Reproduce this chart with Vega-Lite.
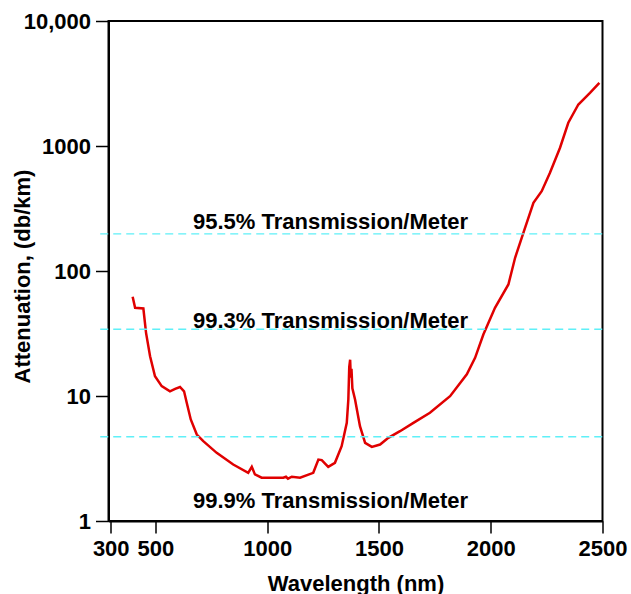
{
  "$schema": "https://vega.github.io/schema/vega-lite/v6.json",
  "width": 494,
  "height": 500,
  "autosize": {"type": "none"},
  "padding": {"left": 108.5, "top": 21, "right": 28.5, "bottom": 73},
  "background": "white",
  "config": {
    "view": {"stroke": "black", "strokeWidth": 2},
    "font": "Liberation Sans"
  },
  "datasets": {
    "curve": [
      {"nm": 398, "att": 62.2},
      {"nm": 409, "att": 50.8},
      {"nm": 446, "att": 50.1},
      {"nm": 458, "att": 32.0},
      {"nm": 476, "att": 20.8},
      {"nm": 498, "att": 14.4},
      {"nm": 528, "att": 12.0},
      {"nm": 565, "att": 10.9},
      {"nm": 588, "att": 11.4},
      {"nm": 610, "att": 11.8},
      {"nm": 628, "att": 10.9},
      {"nm": 640, "att": 8.82},
      {"nm": 658, "att": 6.49},
      {"nm": 685, "att": 4.92},
      {"nm": 714, "att": 4.35},
      {"nm": 774, "att": 3.51},
      {"nm": 848, "att": 2.83},
      {"nm": 915, "att": 2.43},
      {"nm": 931, "att": 2.71},
      {"nm": 945, "att": 2.36},
      {"nm": 975, "att": 2.22},
      {"nm": 1072, "att": 2.22},
      {"nm": 1084, "att": 2.26},
      {"nm": 1093, "att": 2.18},
      {"nm": 1110, "att": 2.26},
      {"nm": 1147, "att": 2.22},
      {"nm": 1206, "att": 2.43},
      {"nm": 1229, "att": 3.10},
      {"nm": 1244, "att": 3.07},
      {"nm": 1273, "att": 2.71},
      {"nm": 1303, "att": 2.92},
      {"nm": 1333, "att": 3.97},
      {"nm": 1356, "att": 6.1},
      {"nm": 1363, "att": 9.4},
      {"nm": 1367, "att": 17.0},
      {"nm": 1371, "att": 19.5},
      {"nm": 1374, "att": 14.0},
      {"nm": 1377, "att": 16.5},
      {"nm": 1381, "att": 11.5},
      {"nm": 1393, "att": 9.38},
      {"nm": 1415, "att": 5.73},
      {"nm": 1438, "att": 4.22},
      {"nm": 1468, "att": 3.92},
      {"nm": 1505, "att": 4.09},
      {"nm": 1542, "att": 4.63},
      {"nm": 1594, "att": 5.23},
      {"nm": 1654, "att": 6.1},
      {"nm": 1728, "att": 7.34},
      {"nm": 1818, "att": 9.96},
      {"nm": 1893, "att": 14.9},
      {"nm": 1930, "att": 20.2},
      {"nm": 1967, "att": 31.0},
      {"nm": 2019, "att": 50.8},
      {"nm": 2079, "att": 78.0},
      {"nm": 2109, "att": 127.6},
      {"nm": 2146, "att": 202},
      {"nm": 2191, "att": 351},
      {"nm": 2228, "att": 435},
      {"nm": 2265, "att": 611},
      {"nm": 2310, "att": 968},
      {"nm": 2347, "att": 1535},
      {"nm": 2392, "att": 2148},
      {"nm": 2444, "att": 2665},
      {"nm": 2486, "att": 3205}
    ],
    "refs": [
      {"level": 198},
      {"level": 34.2},
      {"level": 4.72}
    ],
    "labels": [
      {"label": "95.5% Transmission/Meter", "pos": 217.7},
      {"label": "99.3% Transmission/Meter", "pos": 35.1},
      {"label": "99.9% Transmission/Meter", "pos": 1.275}
    ]
  },
  "layer": [
    {
      "data": {"name": "curve"},
      "mark": {"type": "line", "color": "#e00000", "strokeWidth": 2.5},
      "encoding": {
        "x": {
          "field": "nm",
          "type": "quantitative",
          "title": "Wavelength (nm)",
          "scale": {"domain": [290, 2500], "nice": false, "zero": false},
          "axis": {
            "title": "Wavelength (nm)",
            "values": [300, 500, 1000, 1500, 2000, 2500],
            "format": "d",
            "grid": false,
            "domainColor": "black",
            "domainWidth": 2,
            "tickColor": "black",
            "tickWidth": 1.5,
            "tickSize": 12,
            "labelFont": "Liberation Sans",
            "labelFontSize": 22,
            "labelFontWeight": "bold",
            "labelColor": "black",
            "labelPadding": 5,
            "labelFlush": false,
            "labelOverlap": false,
            "titleFont": "Liberation Sans",
            "titleFontSize": 22,
            "titleFontWeight": "bold",
            "titleColor": "black",
            "titleY": 69,
            "titleBaseline": "alphabetic"
          }
        },
        "y": {
          "field": "att",
          "type": "quantitative",
          "title": "Attenuation, (db/km)",
          "scale": {"type": "log", "domain": [1, 10000], "nice": false},
          "axis": {
            "title": "Attenuation, (db/km)",
            "values": [1, 10, 100, 1000, 10000],
            "labelExpr": "datum.value >= 10000 ? '10,000' : '' + datum.value",
            "grid": false,
            "domainColor": "black",
            "domainWidth": 2,
            "tickColor": "black",
            "tickWidth": 1.5,
            "tickSize": 13,
            "labelFont": "Liberation Sans",
            "labelFontSize": 22,
            "labelFontWeight": "bold",
            "labelColor": "black",
            "labelPadding": 5,
            "labelFlush": false,
            "labelOverlap": false,
            "titleFont": "Liberation Sans",
            "titleFontSize": 22,
            "titleFontWeight": "bold",
            "titleColor": "black",
            "titleAngle": -90,
            "titleX": -86.5,
            "titleY": 255,
            "titleAlign": "center",
            "titleBaseline": "middle"
          }
        }
      }
    },
    {
      "data": {"name": "refs"},
      "mark": {"type": "rule", "color": "#5ff0f8", "strokeWidth": 1.4, "strokeDash": [8, 5], "clip": false},
      "encoding": {
        "y": {"field": "level", "type": "quantitative", "title": "Attenuation, (db/km)"},
        "x": {"datum": 253, "type": "quantitative", "title": "Wavelength (nm)"},
        "x2": {"datum": 2500}
      }
    },
    {
      "data": {"name": "labels"},
      "mark": {"type": "text", "align": "left", "baseline": "alphabetic", "fontSize": 22, "fontWeight": "bold", "color": "black", "font": "Liberation Sans"},
      "encoding": {
        "y": {"field": "pos", "type": "quantitative", "title": "Attenuation, (db/km)"},
        "x": {"datum": 668, "type": "quantitative", "title": "Wavelength (nm)"},
        "text": {"field": "label"}
      }
    }
  ]
}
